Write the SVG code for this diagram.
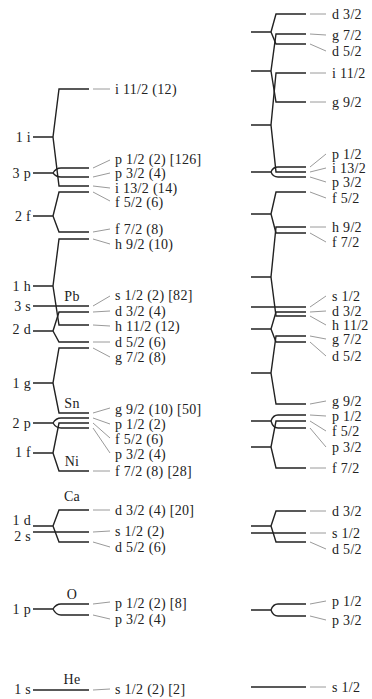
<svg xmlns="http://www.w3.org/2000/svg" width="372" height="699" viewBox="0 0 372 699">
<style>
.lv{fill:none;stroke:#222;stroke-width:1.4}
.cn{fill:none;stroke:#9a9a9a;stroke-width:1}
text{font-family:"Liberation Serif","DejaVu Serif",serif;font-size:14px;fill:#222;letter-spacing:0.3px}
.n{text-anchor:end}
.m{text-anchor:middle}
</style>
<rect width="372" height="699" fill="#fff"/>
<g id="left-levels">
<g id="l-1i"><path class="lv" d="M33 137H53M89 89H59L53 137L59 186H89"/><text class="n" x="31" y="142">1 i</text></g>
<g id="l-3p"><path class="lv" d="M33 173H53M89 168H61Q56 168 53 173Q56 177 61 177H89"/><text class="n" x="31" y="178">3 p</text></g>
<g id="l-2f"><path class="lv" d="M33 216H53M89 192H59L53 216L59 232H89"/><text class="n" x="31" y="221">2 f</text></g>
<g id="l-1h"><path class="lv" d="M33 286H53M89 239H59L53 286L59 325H89"/><text class="n" x="31" y="291">1 h</text></g>
<g id="l-3s"><path class="lv" d="M33 306H89"/><text class="n" x="31" y="311">3 s</text><text class="m" x="72" y="301">Pb</text></g>
<g id="l-2d"><path class="lv" d="M33 331H53M89 312H59L53 331L59 342H89"/><text class="n" x="31" y="334">2 d</text></g>
<g id="l-1g"><path class="lv" d="M33 383H53M89 348H59L53 383L59 413H89"/><text class="n" x="31" y="388">1 g</text><text class="m" x="72" y="408">Sn</text></g>
<g id="l-2p"><path class="lv" d="M33 423H53M89 418H61Q56 418 53 423Q56 428 61 428H89"/><text class="n" x="31" y="428">2 p</text></g>
<g id="l-1f"><path class="lv" d="M33 453H53M89 423H59L53 453L59 471H89"/><text class="n" x="31" y="457">1 f</text><text class="m" x="72" y="466">Ni</text></g>
<g id="l-1d"><path class="lv" d="M33 526H53M89 510H59L53 526L59 542H89"/><text class="n" x="31" y="525">1 d</text><text class="m" x="72" y="501">Ca</text></g>
<g id="l-2s"><path class="lv" d="M33 532H89"/><text class="n" x="31" y="541">2 s</text></g>
<g id="l-1p"><path class="lv" d="M33 609H53M89 604H61Q56 604 53 609Q56 615 61 615H89"/><text class="n" x="31" y="614">1 p</text><text class="m" x="72" y="599">O</text></g>
<g id="l-1s"><path class="lv" d="M33 690H89"/><text class="n" x="31" y="694">1 s</text><text class="m" x="72" y="684">He</text></g>
</g>
<g id="right-levels">
<g id="r-2dg"><path class="lv" d="M251 32H271M306 14H276L271 32L276 44H306"/></g>
<g id="r-1gg"><path class="lv" d="M251 71H271M306 34H276L271 71L276 102H306"/></g>
<g id="r-1i"><path class="lv" d="M251 125H271M306 73H276L271 125L276 172H306"/></g>
<g id="r-3p"><path class="lv" d="M251 172H271M306 167H278Q273 167 271 172Q273 177 278 177H306"/></g>
<g id="r-2f"><path class="lv" d="M251 214H271M306 192H276L271 214L276 233H306"/></g>
<g id="r-1h"><path class="lv" d="M251 277H271M306 227H276L271 277L276 316H306"/></g>
<g id="r-3s"><path class="lv" d="M251 307H306"/></g>
<g id="r-2d"><path class="lv" d="M251 329H271M306 312H276L271 329L276 342H306"/></g>
<g id="r-1g"><path class="lv" d="M251 373H271M306 336H276L271 373L276 404H306"/></g>
<g id="r-2p"><path class="lv" d="M251 421H271M306 415H278Q273 415 271 421Q273 428 278 428H306"/></g>
<g id="r-1f"><path class="lv" d="M251 447H271M306 421H276L271 447L276 468H306"/></g>
<g id="r-1d"><path class="lv" d="M251 526H271M306 511H276L271 526L276 542H306"/></g>
<g id="r-2s"><path class="lv" d="M251 533H306"/></g>
<g id="r-1p"><path class="lv" d="M251 610H271M306 604H278Q273 604 271 610Q273 616 278 616H306"/></g>
<g id="r-1s"><path class="lv" d="M251 687H306"/></g>
</g>
<g id="connectors">
<path class="cn" d="M93 89L110 89M93 168L110 160M93 177L110 173M93 186L110 188M93 192L110 201M93 232L110 229M93 239L110 244M93 306L110 296M93 312L110 311M93 325L110 326M93 342L110 342M93 348L110 357M93 413L110 408M93 418L110 424M93 423L110 438M93 428L110 453M93 471L110 471M93 510L110 510M93 532L110 531M93 542L110 547M93 604L110 602M93 615L110 619M93 690L110 689"/>
<path class="cn" d="M310 14L326 14M310 34L326 35M310 44L326 51M310 73L326 73M310 102L326 102M310 167L326 154M310 172L326 168M310 177L326 182M310 192L326 198M310 227L326 227M310 233L326 242M310 307L326 296M310 312L326 311M310 316L326 325M310 336L326 339M310 342L326 356M310 404L326 401M310 415L326 416M310 421L326 431M310 428L326 447M310 468L326 468M310 511L326 511M310 533L326 533M310 542L326 549M310 604L326 601M310 616L326 620M310 687L326 687"/>
</g>
<g id="left-labels">
<text x="115" y="94">i 11/2 (12)</text>
<text x="115" y="164">p 1/2 (2) [126]</text>
<text x="115" y="178">p 3/2 (4)</text>
<text x="115" y="193">i 13/2 (14)</text>
<text x="115" y="207">f 5/2 (6)</text>
<text x="115" y="234">f 7/2 (8)</text>
<text x="115" y="249">h 9/2 (10)</text>
<text x="115" y="300">s 1/2 (2) [82]</text>
<text x="115" y="316">d 3/2 (4)</text>
<text x="115" y="331">h 11/2 (12)</text>
<text x="115" y="347">d 5/2 (6)</text>
<text x="115" y="362">g 7/2 (8)</text>
<text x="115" y="414">g 9/2 (10) [50]</text>
<text x="115" y="429">p 1/2 (2)</text>
<text x="115" y="444">f 5/2 (6)</text>
<text x="115" y="459">p 3/2 (4)</text>
<text x="115" y="476">f 7/2 (8) [28]</text>
<text x="115" y="515">d 3/2 (4) [20]</text>
<text x="115" y="536">s 1/2 (2)</text>
<text x="115" y="552">d 5/2 (6)</text>
<text x="115" y="608">p 1/2 (2) [8]</text>
<text x="115" y="624">p 3/2 (4)</text>
<text x="115" y="694">s 1/2 (2) [2]</text>
</g>
<g id="right-labels">
<text x="332" y="19">d 3/2</text>
<text x="332" y="40">g 7/2</text>
<text x="332" y="56">d 5/2</text>
<text x="332" y="78">i 11/2</text>
<text x="332" y="107">g 9/2</text>
<text x="332" y="159">p 1/2</text>
<text x="332" y="173">i 13/2</text>
<text x="332" y="187">p 3/2</text>
<text x="332" y="203">f 5/2</text>
<text x="332" y="232">h 9/2</text>
<text x="332" y="247">f 7/2</text>
<text x="332" y="301">s 1/2</text>
<text x="332" y="316">d 3/2</text>
<text x="332" y="330">h 11/2</text>
<text x="332" y="344">g 7/2</text>
<text x="332" y="361">d 5/2</text>
<text x="332" y="406">g 9/2</text>
<text x="332" y="421">p 1/2</text>
<text x="332" y="436">f 5/2</text>
<text x="332" y="452">p 3/2</text>
<text x="332" y="473">f 7/2</text>
<text x="332" y="516">d 3/2</text>
<text x="332" y="538">s 1/2</text>
<text x="332" y="554">d 5/2</text>
<text x="332" y="606">p 1/2</text>
<text x="332" y="625">p 3/2</text>
<text x="332" y="692">s 1/2</text>
</g>
</svg>
